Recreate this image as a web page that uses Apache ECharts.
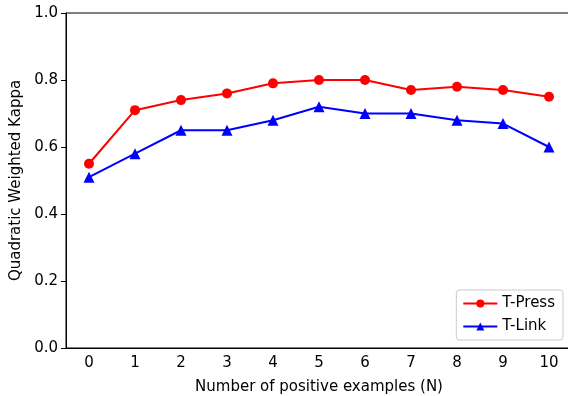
<!DOCTYPE html>
<html>
<head>
<meta charset="utf-8">
<script src="https://cdn.jsdelivr.net/npm/echarts@6/dist/echarts.min.js"></script>
<style>
  html, body { margin: 0; padding: 0; background: #fff; }
  #chart { width: 568px; height: 396px; }
</style>
</head>
<body>
<div id="chart"></div>
<script>
const categories = ['0', '1', '2', '3', '4', '5', '6', '7', '8', '9', '10'];
const tPress = [0.55, 0.71, 0.74, 0.76, 0.79, 0.80, 0.80, 0.77, 0.78, 0.77, 0.75];
const tLink = [0.51, 0.58, 0.65, 0.65, 0.68, 0.72, 0.70, 0.70, 0.68, 0.67, 0.60];

const font = 'DejaVu Sans';
const chart = echarts.init(document.getElementById('chart'));

const option = {
  animation: false,
  textStyle: { fontFamily: font },
  grid: {
    left: 66, right: -4, top: 13, bottom: 48,
    outerBoundsMode: 'none',
    containLabel: false,
    show: true, borderColor: '#000', borderWidth: 1
  },
  legend: {
    orient: 'vertical',
    right: 5, bottom: 56,
    itemWidth: 34, itemHeight: 10, itemGap: 8,
    padding: [6, 8, 6, 6],
    borderColor: '#ccc', borderWidth: 1, borderRadius: 3,
    backgroundColor: 'rgba(255,255,255,0.8)',
    textStyle: { fontFamily: font, fontSize: 15, color: '#000' },
    data: ['T-Press', 'T-Link']
  },
  xAxis: {
    type: 'category',
    data: categories,
    boundaryGap: true,
    name: 'Number of positive examples (N)',
    nameLocation: 'middle',
    nameGap: 32,
    nameTextStyle: { fontFamily: font, fontSize: 15, color: '#000' },
    axisLine: { lineStyle: { color: '#000', width: 1 } },
    axisTick: { alignWithLabel: true, length: 5, lineStyle: { color: '#000' } },
    axisLabel: { fontFamily: font, fontSize: 15, color: '#000', margin: 8 },
    splitLine: { show: false }
  },
  yAxis: {
    type: 'value',
    min: 0, max: 1, interval: 0.2,
    name: 'Quadratic Weighted Kappa',
    nameLocation: 'middle',
    nameGap: 41,
    nameTextStyle: { fontFamily: font, fontSize: 15, color: '#000' },
    axisLine: { show: true, lineStyle: { color: '#000', width: 1 } },
    axisTick: { show: true, length: 5, lineStyle: { color: '#000' } },
    axisLabel: {
      fontFamily: font, fontSize: 15, color: '#000', margin: 8,
      formatter: v => v.toFixed(1)
    },
    splitLine: { show: false }
  },
  series: [
    {
      name: 'T-Press',
      type: 'line',
      data: tPress,
      color: '#ff0000',
      symbol: 'circle',
      symbolSize: 10,
      lineStyle: { width: 2 },
      itemStyle: { color: '#ff0000' }
    },
    {
      name: 'T-Link',
      type: 'line',
      data: tLink,
      color: '#0000ff',
      symbol: 'triangle',
      symbolSize: 11,
      lineStyle: { width: 2 },
      itemStyle: { color: '#0000ff' }
    }
  ]
};

chart.setOption(option);
</script>
</body>
</html>
